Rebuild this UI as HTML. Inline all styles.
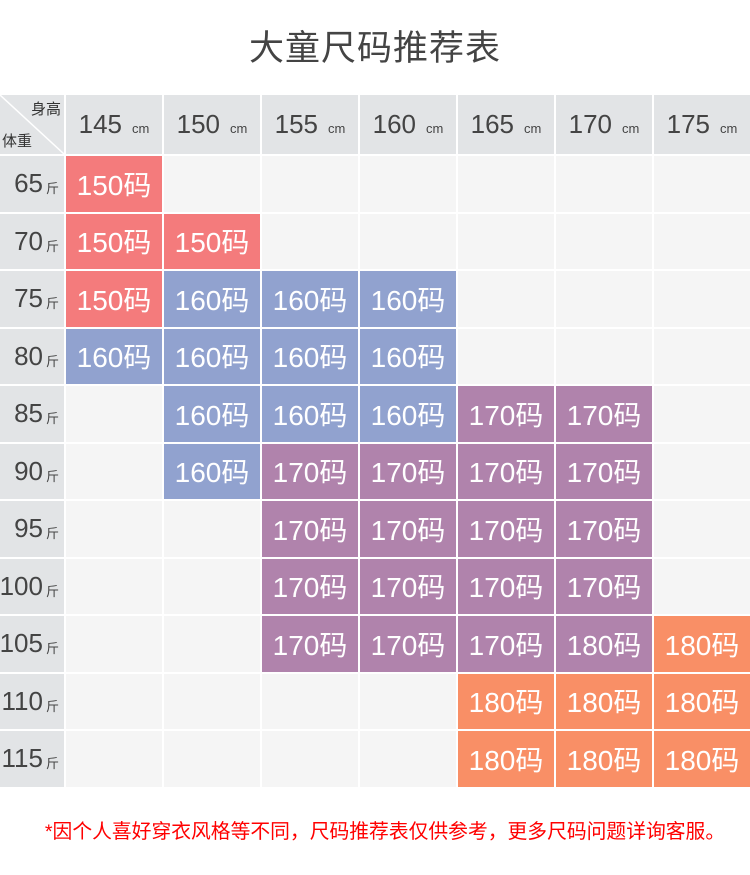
<!DOCTYPE html>
<html><head><meta charset="utf-8">
<style>
body{margin:0;width:750px;height:875px;background:#fff;font-family:"Liberation Sans","Noto Sans CJK SC",sans-serif;overflow:hidden;position:relative}
.title{position:absolute;top:20px;left:0;width:750px;text-align:center;font-size:35px;color:#444;letter-spacing:1px}
.grid{position:absolute;top:95px;left:0;display:grid;grid-template-columns:64px repeat(6,96px) 96px;grid-template-rows:59px repeat(11,55.5px);gap:2px;background:#fff}
.grid div{display:flex;align-items:center;justify-content:center;color:#fff;font-size:28px}
.h{background:#e2e4e6;color:#444!important;font-size:26px!important}
.h small{font-size:13px;margin-left:10px;margin-top:8px}
.l{background:#e2e4e6;color:#444!important;font-size:26px!important;justify-content:flex-end!important;padding-right:5px}
.l small{font-size:13px;margin-left:3px;margin-top:8px}
.e{background:#f5f5f5}
.r{background:#f47b7c}.b{background:#91a2cf}.p{background:#b083ac}.o{background:#f98f66}
.corner{position:relative;background:#e2e4e6}
.corner span{position:absolute;font-size:15px;color:#333}
.foot{position:absolute;top:815px;left:10px;width:750px;text-align:center;color:#f00;font-size:19.8px}
</style></head><body>
<div class="title">大童尺码推荐表</div>
<div class="grid">
<div class="corner"><svg width="64" height="59" style="position:absolute;left:0;top:0"><line x1="0" y1="0" x2="64" y2="59" stroke="#fff" stroke-width="1.5"/></svg><span style="right:3px;top:3px">身高</span><span style="left:2px;bottom:3px">体重</span></div>
<div class="h">145<small>cm</small></div><div class="h">150<small>cm</small></div><div class="h">155<small>cm</small></div><div class="h">160<small>cm</small></div><div class="h">165<small>cm</small></div><div class="h">170<small>cm</small></div><div class="h">175<small>cm</small></div>

<div class="l">65<small>斤</small></div><div class="r">150码</div><div class="e"></div><div class="e"></div><div class="e"></div><div class="e"></div><div class="e"></div><div class="e"></div>
<div class="l">70<small>斤</small></div><div class="r">150码</div><div class="r">150码</div><div class="e"></div><div class="e"></div><div class="e"></div><div class="e"></div><div class="e"></div>
<div class="l">75<small>斤</small></div><div class="r">150码</div><div class="b">160码</div><div class="b">160码</div><div class="b">160码</div><div class="e"></div><div class="e"></div><div class="e"></div>
<div class="l">80<small>斤</small></div><div class="b">160码</div><div class="b">160码</div><div class="b">160码</div><div class="b">160码</div><div class="e"></div><div class="e"></div><div class="e"></div>
<div class="l">85<small>斤</small></div><div class="e"></div><div class="b">160码</div><div class="b">160码</div><div class="b">160码</div><div class="p">170码</div><div class="p">170码</div><div class="e"></div>
<div class="l">90<small>斤</small></div><div class="e"></div><div class="b">160码</div><div class="p">170码</div><div class="p">170码</div><div class="p">170码</div><div class="p">170码</div><div class="e"></div>
<div class="l">95<small>斤</small></div><div class="e"></div><div class="e"></div><div class="p">170码</div><div class="p">170码</div><div class="p">170码</div><div class="p">170码</div><div class="e"></div>
<div class="l">100<small>斤</small></div><div class="e"></div><div class="e"></div><div class="p">170码</div><div class="p">170码</div><div class="p">170码</div><div class="p">170码</div><div class="e"></div>
<div class="l">105<small>斤</small></div><div class="e"></div><div class="e"></div><div class="p">170码</div><div class="p">170码</div><div class="p">170码</div><div class="p">180码</div><div class="o">180码</div>
<div class="l">110<small>斤</small></div><div class="e"></div><div class="e"></div><div class="e"></div><div class="e"></div><div class="o">180码</div><div class="o">180码</div><div class="o">180码</div>
<div class="l">115<small>斤</small></div><div class="e"></div><div class="e"></div><div class="e"></div><div class="e"></div><div class="o">180码</div><div class="o">180码</div><div class="o">180码</div>
</div>
<div class="foot">*因个人喜好穿衣风格等不同，尺码推荐表仅供参考，更多尺码问题详询客服。</div>
</body></html>
